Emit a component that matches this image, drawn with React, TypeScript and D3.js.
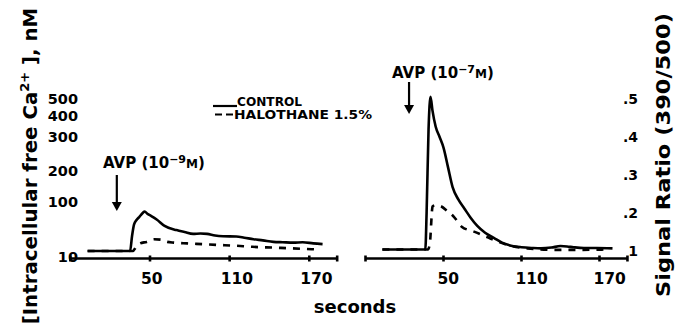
import React from "react";
import * as d3 from "d3";

// ---- data (time in seconds, signal ratio 390/500) ----
const ctrlLeftT = [3, 35, 36.5, 38, 40, 42, 44.5, 46, 48, 51, 55, 61, 70, 76, 82.5, 88, 93, 99, 105, 115, 121, 128, 135, 143, 150, 158, 165, 173, 180];
const ctrlLeftR = [0.1, 0.1, 0.14, 0.17, 0.182, 0.19, 0.2, 0.204, 0.198, 0.192, 0.183, 0.166, 0.155, 0.15, 0.145, 0.146, 0.145, 0.141, 0.139, 0.138, 0.135, 0.131, 0.128, 0.124, 0.123, 0.122, 0.123, 0.12, 0.118];

const haloLeftT = [3, 37, 40, 42.5, 47.5, 53, 58, 63, 68, 78, 90, 101, 114, 127, 142, 157, 176];
const haloLeftR = [0.1, 0.1, 0.113, 0.12, 0.124, 0.131, 0.13, 0.124, 0.122, 0.12, 0.118, 0.116, 0.114, 0.111, 0.109, 0.107, 0.104];

const ctrlRightT = [3, 36, 37, 38.5, 40, 41.5, 44, 47, 50, 53.5, 57, 61.5, 66, 71, 76, 82, 89, 95, 102, 110, 118, 125, 133, 140, 145, 150, 158, 168, 180];
const ctrlRightR = [0.104, 0.104, 0.2, 0.42, 0.506, 0.47, 0.427, 0.4, 0.372, 0.32, 0.268, 0.235, 0.212, 0.187, 0.166, 0.148, 0.134, 0.122, 0.114, 0.11, 0.108, 0.107, 0.109, 0.113, 0.112, 0.11, 0.108, 0.108, 0.107];

const haloRightT = [3, 38, 39.5, 41.6, 44, 48, 53, 58, 64, 73.5, 86, 99, 114.5, 137.5, 155, 176];
const haloRightR = [0.104, 0.104, 0.12, 0.217, 0.221, 0.218, 0.205, 0.19, 0.164, 0.151, 0.133, 0.116, 0.107, 0.103, 0.103, 0.104];

const xTicks = [50, 110, 170];
const leftTickLabels = ["500", "400", "300", "200", "100", "10"];
const leftTickRatios = [0.5, 0.455, 0.4, 0.31, 0.23, 0.085];
const rightTickLabels = [".5", ".4", ".3", ".2", "1"];
const rightTickRatios = [0.5, 0.4, 0.3, 0.2, 0.1];
const arrowTimes = [25, 23.5];

const FONT = "'DejaVu Sans', sans-serif";

export default function App() {
  const y = d3.scaleLinear().domain([0.1, 0.5]).range([251, 99]);
  const xL = d3.scaleLinear().domain([50, 170]).range([150, 309.3]);
  const xR = d3.scaleLinear().domain([50, 170]).range([443.5, 599.5]);
  const axisY = 258.5;

  const mk = (x: d3.ScaleLinear<number, number>) =>
    d3
      .line<[number, number]>()
      .x((d) => x(d[0]))
      .y((d) => y(d[1]))
      .curve(d3.curveMonotoneX);
  const zip = (a: number[], b: number[]) => a.map((t, i) => [t, b[i]] as [number, number]);

  const panels = [
    { x: xL, ctrl: zip(ctrlLeftT, ctrlLeftR), halo: zip(haloLeftT, haloLeftR), labOff: -9, dom: [-10, 191], arrowTop: 175, arrowTip: 211 },
    { x: xR, ctrl: zip(ctrlRightT, ctrlRightR), halo: zip(haloRightT, haloRightR), labOff: -6, dom: [-10, 191.5], arrowTop: 82, arrowTip: 114 },
  ];

  return (
    <svg
      width={677}
      height={333}
      style={{ position: "absolute", left: 0, top: 0, background: "#fff" }}
      fontFamily={FONT}
      fontWeight="bold"
    >
      <rect width={677} height={333} fill="#fff" />
      {panels.map((p, i) => {
        const line = mk(p.x);
        const x0 = p.x(p.dom[0]);
        const x1 = p.x(p.dom[1]);
        const ax = p.x(arrowTimes[i]);
        return (
          <g key={i}>
            <line x1={x0} x2={x1} y1={axisY} y2={axisY} stroke="#000" strokeWidth={2.4} />
            {[p.dom[0], ...xTicks, p.dom[1]].map((t, j) => (
              <line key={j} x1={p.x(t)} x2={p.x(t)} y1={axisY - 3} y2={axisY + 3} stroke="#000" strokeWidth={2.6} />
            ))}
            {xTicks.map((t) => (
              <text key={t} x={p.x(t) + p.labOff} y={283.5} fontSize={15.5} textAnchor="start">
                {t}
              </text>
            ))}
            <path d={line(p.ctrl) || ""} fill="none" stroke="#000" strokeWidth={2.6} strokeLinejoin="round" />
            <path d={line(p.halo) || ""} fill="none" stroke="#000" strokeWidth={2.6} strokeDasharray="7,7" />
            <line x1={ax} x2={ax} y1={p.arrowTop} y2={p.arrowTip - 7} stroke="#000" strokeWidth={2.2} />
            <path d={`M${ax - 5},${p.arrowTip - 9} L${ax + 5},${p.arrowTip - 9} L${ax},${p.arrowTip} Z`} fill="#000" />
          </g>
        );
      })}

      {/* AVP labels */}
      <text x={103} y={168} fontSize={15}>
        AVP (10<tspan fontSize={11} dy={-5}>−9</tspan>
        <tspan fontSize={12} dy={5}>M</tspan>)
      </text>
      <text x={392} y={78} fontSize={15}>
        AVP (10<tspan fontSize={11} dy={-5}>−7</tspan>
        <tspan fontSize={12} dy={5}>M</tspan>)
      </text>

      {/* left tick labels */}
      {leftTickLabels.map((l, i) => (
        <text key={l} x={78} y={y(leftTickRatios[i])} dy="0.36em" fontSize={14.5} textAnchor="end">
          {l}
        </text>
      ))}
      {/* right tick labels */}
      {rightTickLabels.map((l, i) => (
        <text key={l} x={638} y={y(rightTickRatios[i])} dy="0.36em" fontSize={14} textAnchor="end">
          {l}
        </text>
      ))}

      {/* legend */}
      <line x1={213} x2={237} y1={106} y2={106} stroke="#000" strokeWidth={2.2} />
      <line x1={215} x2={233} y1={114.5} y2={114.5} stroke="#000" strokeWidth={2.2} strokeDasharray="7,4" />
      <text x={237} y={106} fontSize={12} textLength={65} lengthAdjust="spacingAndGlyphs">
        CONTROL
      </text>
      <text x={234} y={119} fontSize={12} textLength={138} lengthAdjust="spacingAndGlyphs">
        HALOTHANE 1.5%
      </text>

      {/* axis titles */}
      <text x={355} y={313} fontSize={18} textAnchor="middle">
        seconds
      </text>
      <text transform="translate(37,166) rotate(-90)" fontSize={19.8} textAnchor="middle">
        [Intracellular free Ca<tspan fontSize={13} dy={-8}>2+</tspan>
        <tspan dy={8}> ], nM</tspan>
      </text>
      <text transform="translate(670,155) rotate(-90)" fontSize={20} textAnchor="middle" textLength={284} lengthAdjust="spacingAndGlyphs">
        Signal Ratio (390/500)
      </text>
    </svg>
  );
}
